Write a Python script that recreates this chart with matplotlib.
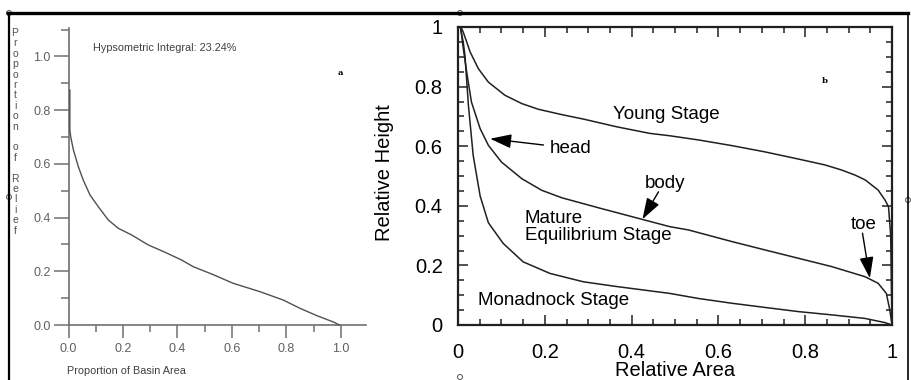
import numpy as np
import matplotlib
matplotlib.use("Agg")
import matplotlib.pyplot as plt
from matplotlib.lines import Line2D
from matplotlib.patches import Ellipse
from matplotlib.ticker import FuncFormatter

# --- data ---
# panel a: hypsometric curve of one basin
basin_area = [0.005, 0.005, 0.008, 0.018, 0.036, 0.054, 0.079, 0.109, 0.146, 0.183,
              0.232, 0.293, 0.354, 0.415, 0.458, 0.53, 0.605, 0.703, 0.788, 0.85,
              0.911, 0.947, 0.975, 0.994]
basin_relief = [0.875, 0.726, 0.701, 0.652, 0.59, 0.54, 0.484, 0.441, 0.391, 0.36,
                0.335, 0.298, 0.271, 0.242, 0.217, 0.188, 0.155, 0.124, 0.093, 0.062,
                0.035, 0.021, 0.01, 0.0]
hi_text = "Hypsometric Integral: 23.24%"

# panel b: idealised stages
young_x = [0.008, 0.012, 0.02, 0.028, 0.047, 0.07, 0.108, 0.147, 0.185, 0.239, 0.289,
           0.366, 0.442, 0.488, 0.554, 0.631, 0.707, 0.784, 0.846, 0.884, 0.915, 0.938,
           0.968, 0.984, 0.992, 0.997, 1.0]
young_y = [0.996, 0.983, 0.95, 0.916, 0.86, 0.815, 0.771, 0.743, 0.724, 0.706, 0.691,
           0.665, 0.643, 0.635, 0.621, 0.602, 0.581, 0.557, 0.537, 0.52, 0.503, 0.487,
           0.453, 0.419, 0.397, 0.3, 0.0]
mature_x = [0.006, 0.012, 0.02, 0.031, 0.051, 0.07, 0.1, 0.147, 0.193, 0.239, 0.327,
            0.423, 0.488, 0.531, 0.631, 0.707, 0.784, 0.861, 0.938, 0.968, 0.987,
            0.995, 1.0]
mature_y = [1.0, 0.93, 0.849, 0.748, 0.659, 0.603, 0.547, 0.491, 0.452, 0.427, 0.392,
            0.355, 0.33, 0.319, 0.28, 0.252, 0.224, 0.196, 0.162, 0.14, 0.106,
            0.05, 0.0]
mono_x = [0.005, 0.012, 0.016, 0.024, 0.035, 0.051, 0.07, 0.104, 0.15, 0.212, 0.289,
          0.366, 0.488, 0.554, 0.631, 0.707, 0.784, 0.861, 0.938, 0.984, 1.0]
mono_y = [1.0, 0.95, 0.905, 0.737, 0.569, 0.433, 0.343, 0.274, 0.212, 0.173, 0.145,
          0.129, 0.106, 0.089, 0.073, 0.059, 0.045, 0.034, 0.022, 0.008, 0.0]

# labels: (text, x, y) in data units, and arrows (tip, tail)
stage_labels = [("Young Stage", 0.356, 0.692),
                ("Mature\nEquilibrium Stage", 0.154, 0.285),
                ("Monadnock Stage", 0.045, 0.067)]
part_labels = [("head", 0.212, 0.576), ("body", 0.431, 0.46), ("toe", 0.906, 0.321)]
part_arrows = [((0.074, 0.625), (0.197, 0.604)),
               ((0.425, 0.355), (0.462, 0.447)),
               ((0.949, 0.157), (0.932, 0.308))]

W, H = 911, 380
fig = plt.figure(figsize=(W / 100, H / 100), dpi=100)
plt.rcParams['font.family'] = ['Liberation Sans', 'DejaVu Sans']

def fx(px):
    return px / W

def fy(py):
    return 1 - py / H

# ---------------- panel a ----------------
grey = '#707070'
ax1 = fig.add_axes([fx(68.5), fy(325), 297 / W, 297 / H])
ax1.plot(basin_area, basin_relief, color='#505050', lw=1.0, zorder=3, clip_on=False)
ax1.set_xlim(0, 1.09)
ax1.set_ylim(0, 1.106)
for s in ['top', 'right']:
    ax1.spines[s].set_visible(False)
for s in ['left', 'bottom']:
    ax1.spines[s].set_color(grey)
    ax1.spines[s].set_linewidth(1.2)
ax1.set_xticks(np.arange(0, 1.01, 0.2))
ax1.set_xticks(np.arange(0.1, 1.0, 0.2), minor=True)
ax1.set_yticks(np.arange(0, 1.01, 0.2))
ax1.set_yticks(np.arange(0.1, 1.15, 0.2), minor=True)
ax1.xaxis.set_major_formatter(FuncFormatter(lambda v, p: f"{v:.1f}"))
ax1.yaxis.set_major_formatter(FuncFormatter(lambda v, p: f"{v:.1f}"))
ax1.tick_params(axis='x', which='major', direction='out', length=9, width=1.1,
                color=grey, labelcolor='#606060', labelsize=9, pad=4)
ax1.tick_params(axis='x', which='minor', direction='out', length=5, width=1.1, color=grey)
ax1.tick_params(axis='y', which='major', direction='out', length=11, width=1.1,
                color=grey, labelcolor='#606060', labelsize=9, pad=2)
ax1.tick_params(axis='y', which='minor', direction='out', length=6, width=1.1, color=grey)
ax1.text(0.09, 1.032, hi_text, fontsize=7.8, color='#404040', va='center', ha='left')
ax1.text(0.997, 0.939, "a", fontsize=6, family='DejaVu Serif', weight='bold',
         ha='center', va='center')

fig.text(fx(67), fy(370.7), "Proportion of Basin Area", fontsize=7.8, color='#404040',
         ha='left', va='center')
for i, ch in enumerate("Proportion of Relief"):
    fig.text(fx(15), fy(33 + i * 10.4), ch, fontsize=7.5, color='#505050',
             ha='center', va='center')

# ---------------- panel b ----------------
ax2 = fig.add_axes([fx(458), fy(325), 434 / W, 298 / H])
for xs, ys in [(young_x, young_y), (mature_x, mature_y), (mono_x, mono_y)]:
    ax2.plot(xs, ys, color='#202020', lw=1.1)
ax2.set_xlim(0, 1)
ax2.set_ylim(0, 1)
for s in ax2.spines.values():
    s.set_linewidth(1.6)
    s.set_color('#202020')
ax2.set_xticks(np.arange(0, 1.01, 0.2))
ax2.set_yticks(np.arange(0, 1.01, 0.2))
ax2.set_xticks(np.arange(0, 1.001, 0.05), minor=True)
ax2.set_yticks(np.arange(0, 1.001, 0.05), minor=True)
fmt = FuncFormatter(lambda v, p: f"{v:g}")
ax2.xaxis.set_major_formatter(fmt)
ax2.yaxis.set_major_formatter(fmt)
ax2.tick_params(which='both', direction='in', top=True, right=True, width=1.1,
                color='#202020')
ax2.tick_params(which='major', length=7, labelsize=14.5)
ax2.tick_params(which='minor', length=4)
ax2.tick_params(axis='x', which='major', pad=13)
ax2.tick_params(axis='y', which='major', pad=11)

ax2.text(-0.169, 0.51, "Relative Height", transform=ax2.transAxes, rotation=90,
         fontsize=14.5, ha='center', va='center')
ax2.text(0.5, -0.171, "Relative Area", transform=ax2.transAxes, fontsize=14.5,
         ha='center', va='baseline')

for txt, x, y in stage_labels + part_labels:
    ax2.text(x, y, txt, fontsize=13.5, ha='left', va='baseline', linespacing=1.0)
for tip, tail in part_arrows:
    ax2.annotate("", xy=tip, xytext=tail,
                 arrowprops=dict(arrowstyle='-|>,head_length=1.3,head_width=0.43',
                                 mutation_scale=10, lw=1.0, color='black',
                                 shrinkA=0, shrinkB=0))
ax2.text(0.844, 0.819, "b", fontsize=6, family='DejaVu Serif', weight='bold',
         ha='center', va='center')

# ---------------- document frame ----------------
fig.add_artist(Line2D([fx(8), fx(908)], [fy(13), fy(13)], lw=2.4, color='black'))
fig.add_artist(Line2D([fx(9), fx(9)], [fy(13), fy(380)], lw=1.6, color='black'))
fig.add_artist(Line2D([fx(908), fx(908)], [fy(13), fy(380)], lw=1.2, color='black'))
for hx, hy in [(9, 13), (9, 197), (460, 13), (908, 200), (460, 377)]:
    fig.add_artist(Ellipse((fx(hx), fy(hy)), 5 / W, 5 / H, facecolor='white',
                           edgecolor='#555555', lw=0.7))

fig.savefig("out.png", dpi=100)
